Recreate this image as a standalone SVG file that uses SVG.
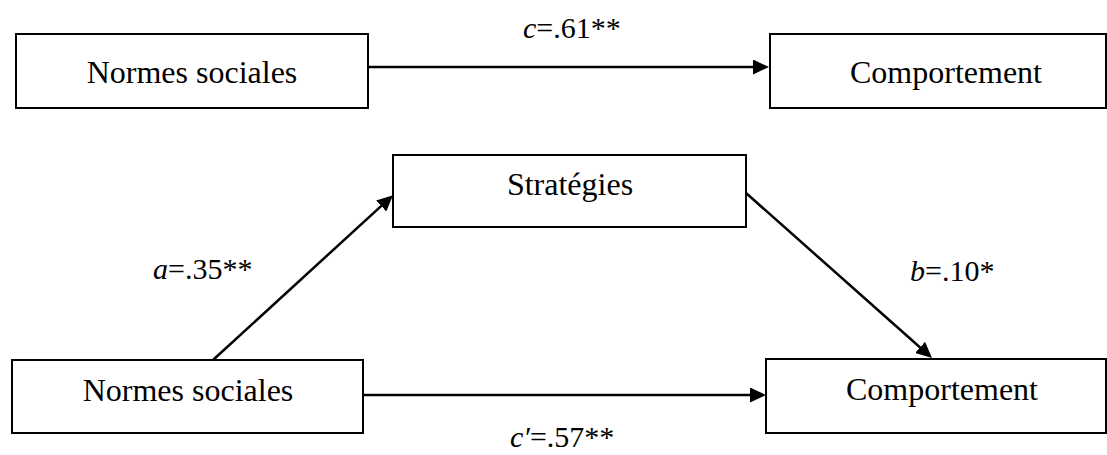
<svg xmlns="http://www.w3.org/2000/svg" width="1107" height="455" viewBox="0 0 1107 455">
<style>
.box{fill:#fff;stroke:#000;stroke-width:2}
.lbl{font-family:"Liberation Serif","Times New Roman",serif;font-size:32px;fill:#000;text-anchor:middle}
.coef{font-family:"Liberation Serif","Times New Roman",serif;font-size:30px;fill:#000}
.v{font-style:italic}
.conn{stroke:#000;stroke-width:2.5;fill:none}
</style>
<defs>
<marker id="arr" viewBox="0 0 16 15" refX="5" refY="7.5" markerWidth="16" markerHeight="15" markerUnits="userSpaceOnUse" orient="auto">
<path d="M0,0 L16,7.5 L0,15 Z" fill="#000"/>
</marker>
</defs>
<rect width="1107" height="455" fill="#fff"/>
<g id="connectors">
<line class="conn" x1="368" y1="67" x2="758" y2="67" marker-end="url(#arr)"/>
<line class="conn" x1="363" y1="395" x2="755" y2="395" marker-end="url(#arr)"/>
<line class="conn" x1="213" y1="360" x2="384.9" y2="202.6" marker-end="url(#arr)"/>
<line class="conn" x1="746" y1="193" x2="923.8" y2="350.7" marker-end="url(#arr)"/>
<text class="coef" x="523" y="38"><tspan class="v">c</tspan>=.61**</text>
<text class="coef" x="153" y="279"><tspan class="v">a</tspan>=.35**</text>
<text class="coef" x="910" y="281"><tspan class="v">b</tspan>=.10*</text>
<text class="coef" x="510" y="447"><tspan class="v">c′</tspan>=.57**</text>
</g>
<g id="normes-top">
<rect class="box" x="16" y="34" width="352" height="74"/>
<text class="lbl" x="192" y="83">Normes sociales</text>
</g>
<g id="comportement-top">
<rect class="box" x="770" y="34" width="336" height="74"/>
<text class="lbl" x="946" y="83">Comportement</text>
</g>
<g id="strategies">
<rect class="box" x="393" y="155" width="353" height="72"/>
<text class="lbl" x="570" y="195">Stratégies</text>
</g>
<g id="normes-bottom">
<rect class="box" x="12" y="360" width="351" height="73"/>
<text class="lbl" x="188" y="401">Normes sociales</text>
</g>
<g id="comportement-bottom">
<rect class="box" x="766" y="359" width="340" height="74"/>
<text class="lbl" x="942" y="400">Comportement</text>
</g>
</svg>
